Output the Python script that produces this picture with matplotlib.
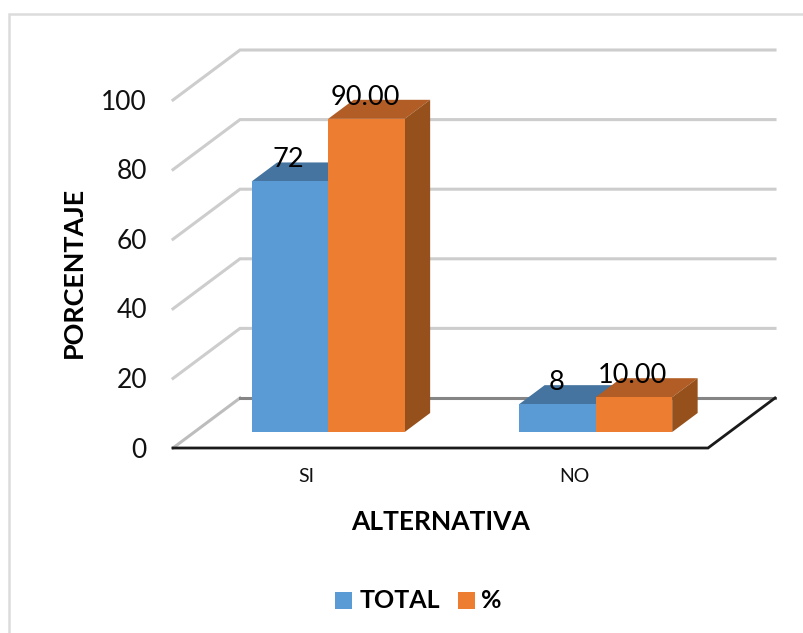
import matplotlib
matplotlib.use("Agg")
import matplotlib.pyplot as plt
from matplotlib.lines import Line2D
from matplotlib.patches import Polygon, Rectangle

categories = ["SI", "NO"]
series_names = ["TOTAL", "%"]
total_values = [72, 8]
percent_values = [90.00, 10.00]
total_labels = ["72", "8"]
percent_labels = ["90.00", "10.00"]
y_ticks = [0, 20, 40, 60, 80, 100]

W, H = 804, 633
FONT = "Lato"
BLUE = ("#5B9BD5", "#44749F", "#35587A")
ORANGE = ("#ED7D31", "#B15D25", "#95501C")

fig = plt.figure(figsize=(W / 100, H / 100), dpi=100)
# Plot box: the front edge of the floor, with 0-100 on the vertical scale.
LEFT, RIGHT, BOTTOM, TOP = 173, 708, 448, 100
ax = fig.add_axes([LEFT / W, 1 - BOTTOM / H, (RIGHT - LEFT) / W, (BOTTOM - TOP) / H])
ax.set_xlim(0, 2)
ax.set_ylim(0, 100)
ax.axis("off")

PX_X = (RIGHT - LEFT) / 2
PX_Y = (BOTTOM - TOP) / 100
DEPTH_X = 67 / PX_X
DEPTH_Y = 50 / PX_Y


def proj(x, y, d=0.0):
    """Oblique projection: d=0 is the front of the floor, d=1 the back wall."""
    return x + d * DEPTH_X, y + d * DEPTH_Y


# Chart border runs along the top and left edges only
fig.add_artist(Line2D([8.5 / W, 8.5 / W, 1], [0, 1 - 13.5 / H, 1 - 13.5 / H], transform=fig.transFigure,
                      color="#DCDCDC", lw=1.8, solid_joinstyle="miter"))

# Walls and gridlines
for v in y_ticks[1:]:
    xs, ys = zip(proj(0, v, 0), proj(0, v, 1), proj(2, v, 1))
    ax.plot(xs, ys, color="#CDCDCD", lw=2.2, clip_on=False, solid_joinstyle="miter", zorder=1)

xs, ys = zip(proj(0, 0, 0), proj(0, 0, 1))
ax.plot(xs, ys, color="#BDBDBD", lw=2.2, clip_on=False, zorder=1)
xs, ys = zip(proj(0, 0, 1), proj(2, 0, 1))
ax.plot(xs, ys, color="#858585", lw=2.2, clip_on=False, zorder=1)
xs, ys = zip(proj(2, 0, 1), proj(2, 0, 0), proj(0, 0, 0))
ax.plot(xs, ys, color="#1A1A1A", lw=2.0, clip_on=False, zorder=2, solid_joinstyle="miter")

# Bars
BAR_W = 76.5 / PX_X
D0, D1 = 0.32, 0.70


def bar3d(x0, value, colors, z):
    x1 = x0 + BAR_W
    quads = [
        (colors[1], [proj(x0, value, D0), proj(x1, value, D0), proj(x1, value, D1), proj(x0, value, D1)]),
        (colors[2], [proj(x1, 0, D0), proj(x1, 0, D1), proj(x1, value, D1), proj(x1, value, D0)]),
        (colors[0], [proj(x0, 0, D0), proj(x1, 0, D0), proj(x1, value, D0), proj(x0, value, D0)]),
    ]
    for c, pts in quads:
        ax.add_patch(Polygon(pts, closed=True, fc=c, ec="none", clip_on=False, zorder=z))


LABEL_SIZE = 19.5
for i, cat in enumerate(categories):
    centre = i + 0.5
    bar3d(centre - BAR_W, total_values[i], BLUE, 3)
    bar3d(centre, percent_values[i], ORANGE, 4)
    # Value labels sit over the rear edge of each bar top
    lx, ly = proj(centre - BAR_W / 2, total_values[i], 0.72)
    ax.text(lx - 28 / PX_X, ly - 11 / PX_Y, total_labels[i], ha="center", va="bottom", fontsize=LABEL_SIZE,
            family=FONT, color="black", zorder=6, clip_on=False)
    lx, ly = proj(centre + BAR_W / 2, percent_values[i], 0.72)
    ax.text(lx - 28 / PX_X, ly - 11 / PX_Y, percent_labels[i], ha="center", va="bottom", fontsize=LABEL_SIZE,
            family=FONT, color="black", zorder=6, clip_on=False)
    ax.text(centre, -8.2, cat, ha="center", va="center", fontsize=14, family=FONT, color="#111111", clip_on=False)

# Value axis labels
for v in y_ticks:
    ax.text(-26 / PX_X, v - 0.6, str(v), ha="right", va="center",
            fontsize=19, family=FONT, color="#111111", clip_on=False)

fig.text(74 / W, 1 - 272 / H, "PORCENTAJE", rotation=90, ha="center", va="center",
         fontsize=19.4, fontweight="bold", family=FONT, color="black")
fig.text(441 / W, 1 - 522 / H, "ALTERNATIVA", ha="center", va="center",
         fontsize=19, fontweight="bold", family=FONT, color="black")

# Legend
for name, col, sx, tx in zip(series_names, (BLUE[0], ORANGE[0]), (335, 458), (360, 481)):
    fig.add_artist(Rectangle((sx / W, 1 - 609 / H), 17 / W, 17 / H, transform=fig.transFigure, fc=col, ec="none"))
    fig.text(tx / W, 1 - 601 / H, name, ha="left", va="center", fontsize=18, fontweight="bold", family=FONT, color="black")

fig.savefig("out.png", dpi=100)
